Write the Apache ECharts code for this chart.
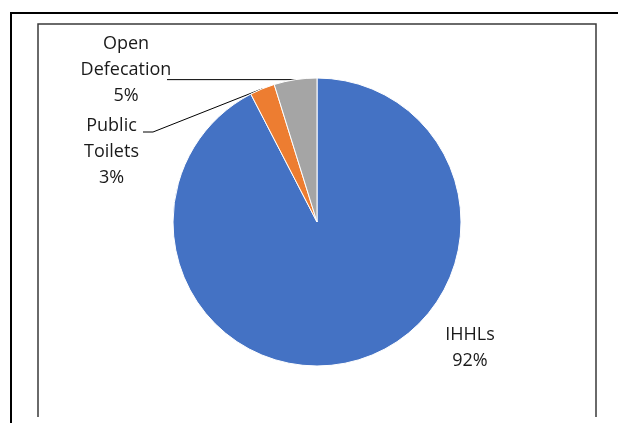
<!DOCTYPE html>
<html><head><meta charset="utf-8">
<script src="https://cdn.jsdelivr.net/npm/echarts@6/dist/echarts.min.js"></script>
<style>html,body{margin:0;padding:0;background:#fff}#c{width:618px;height:423px}</style>
</head><body><div id="c"></div>
<script>
const categories = ['IHHLs', 'Public Toilets', 'Open Defecation'];
const values = [92.4, 2.8, 4.8];
const colors = ['#4472C4', '#ED7D31', '#A5A5A5'];

// layout (not data): label centres and leader-line bends
const labelAnchors = [[470, 348], [111.5, 152], [126, 69.5]];
const leaderBends = [null, [[153, 132], [143, 132]], [[167, null], [167, null]]];

const chart = echarts.init(document.getElementById('c'), null, { renderer: 'canvas' });

const data = categories.map((name, i) => ({
  name: name,
  value: values[i],
  itemStyle: { color: colors[i] },
  labelLine: { show: i !== 0 }
}));

chart.setOption({
  animation: false,
  backgroundColor: '#ffffff',
  graphic: [
    { type: 'line', shape: { x1: 11, y1: 13, x2: 618, y2: 13 }, style: { stroke: '#000', lineWidth: 2 } },
    { type: 'line', shape: { x1: 11, y1: 12, x2: 11, y2: 423 }, style: { stroke: '#000', lineWidth: 2 } },
    { type: 'polyline', shape: { points: [[38, 417], [38, 24], [596, 24], [596, 417]] }, style: { stroke: '#3a3a3a', lineWidth: 1.5, fill: null } }
  ],
  series: [{
    type: 'pie',
    center: [317, 222],
    radius: 144,
    startAngle: 90,
    clockwise: true,
    avoidLabelOverlap: false,
    percentPrecision: 0,
    emphasis: { disabled: true },
    itemStyle: { borderColor: '#ffffff', borderWidth: 1 },
    label: {
      show: true,
      position: 'outside',
      formatter: p => p.name.replace(' ', '\n') + '\n' + p.percent + '%',
      fontFamily: 'Open Sans',
      fontSize: 18,
      lineHeight: 26,
      color: '#1a1a1a',
      align: 'center'
    },
    labelLine: { show: true, length: 0, length2: 20, lineStyle: { color: '#000', width: 1 } },
    labelLayout: function (p) {
      const i = p.dataIndex;
      const a = labelAnchors[i];
      const res = { x: a[0], y: a[1], align: 'center', verticalAlign: 'middle' };
      if (p.labelLinePoints && leaderBends[i]) {
        const s = p.labelLinePoints[0];
        res.labelLinePoints = [s].concat(leaderBends[i].map(b => [b[0], b[1] == null ? s[1] : b[1]]));
      }
      return res;
    },
    data: data
  }]
});
</script>
</body></html>
